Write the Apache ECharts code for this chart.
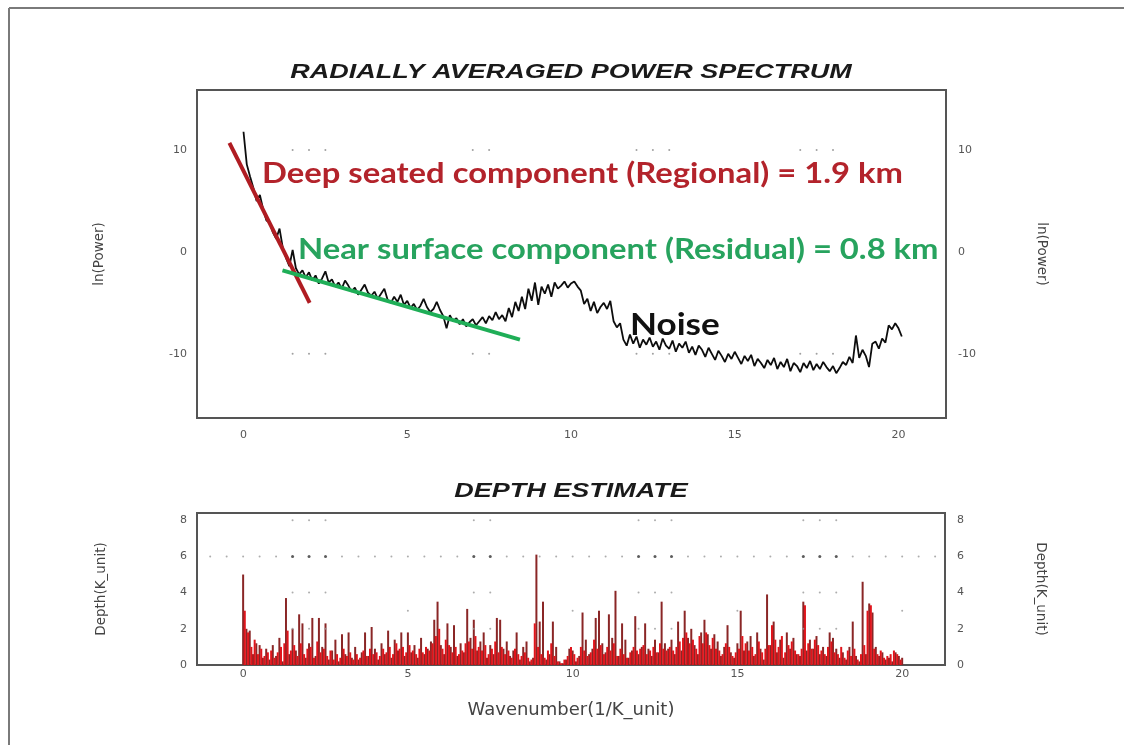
<!DOCTYPE html>
<html><head><meta charset="utf-8">
<script src="https://cdn.jsdelivr.net/npm/echarts@6/dist/echarts.min.js"></script>
<style>html,body{margin:0;padding:0;background:#fff}#c{width:1124px;height:745px}</style>
</head><body><div id="c"></div>
<script>
// ---- data ----
const xTicks = [0, 5, 10, 15, 20];
const powerTicks = [-10, 0, 10];
const depthTicks = [0, 2, 4, 6, 8];
const spectrumStart = 0, spectrumStep = 0.1;
const lnPower = [
 11.8, 8.6, 7.4, 6.3, 5.0, 5.6, 4.2, 3.1, 2.9, 1.9,
 1.3, 2.3, 0.4, -0.6, -1.4, 0.2, -1.6, -2.2, -1.8, -2.5,
 -2.0, -2.8, -2.3, -3.1, -2.6, -1.9, -3.0, -2.7, -3.4, -3.0,
 -3.6, -2.8, -3.3, -3.9, -3.5, -4.2, -3.7, -3.2, -4.0, -4.3,
 -3.9, -4.6, -4.1, -3.6, -4.7, -5.0, -4.4, -4.9, -4.2, -5.2,
 -4.8, -5.5, -5.1, -5.7, -5.3, -4.6, -5.4, -5.9, -5.6, -4.9,
 -5.7, -6.3, -7.5, -6.2, -6.8, -6.5, -7.1, -6.6, -7.3, -6.9,
 -6.6, -7.2, -6.8, -6.4, -7.0, -6.3, -6.7, -5.9, -6.6, -6.2,
 -6.8, -5.5, -6.4, -4.9, -5.8, -4.4, -5.6, -3.6, -4.8, -3.0,
 -5.2, -3.4, -4.1, -3.2, -4.4, -3.0, -3.6, -3.3, -2.9, -3.5,
 -3.1, -2.9, -3.4, -3.8, -5.1, -4.6, -5.8, -4.9, -6.0, -5.4,
 -5.0, -5.6, -4.8, -6.8, -7.4, -7.0, -8.6, -9.2, -8.1, -9.0,
 -8.3, -9.4, -8.6, -9.1, -8.4, -9.3, -8.8, -9.6, -8.5, -9.2,
 -9.5, -8.7, -9.8, -9.0, -9.4, -8.8, -9.9, -9.3, -10.1, -9.2,
 -9.6, -10.3, -9.4, -10.0, -10.6, -9.7, -10.2, -10.8, -10.0, -10.5,
 -9.8, -10.4, -11.0, -10.2, -10.7, -10.1, -11.2, -10.5, -10.9, -11.4,
 -10.6, -11.1, -10.4, -11.5, -10.8, -11.3, -10.5, -11.7, -10.9, -11.2,
 -11.8, -10.9, -11.4, -10.7, -11.6, -11.0, -11.5, -10.8, -11.3, -11.7,
 -11.2, -11.9, -11.4, -10.8, -11.1, -10.3, -10.9, -8.2, -10.4, -9.6,
 -10.2, -11.3, -9.0, -8.8, -9.5, -8.5, -8.9, -7.2, -7.6, -7.0,
 -7.5, -8.3
];
const regionalFit = [[-0.43, 10.7], [2.02, -5.0]];
const residualFit = [[1.19, -1.8], [8.44, -8.6]];

const depthDarkStart = 0, depthRedStart = 0.05, depthStep = 0.1;
const depthDark = [
 5.0, 2.0, 1.9, 0.6, 1.2, 1.1, 0.4, 0.9, 0.3, 1.1,
 0.5, 1.5, 0.2, 3.7, 0.6, 2.0, 0.8, 2.8, 2.3, 0.4,
 1.2, 2.6, 0.5, 2.6, 1.0, 2.3, 0.3, 0.8, 1.4, 0.2,
 1.7, 0.6, 1.8, 0.4, 1.0, 0.3, 0.7, 1.8, 0.5, 2.1,
 0.9, 0.3, 1.2, 0.6, 1.9, 0.4, 1.4, 0.8, 1.8, 0.5,
 1.8, 0.7, 1.1, 0.4, 1.5, 0.6, 0.9, 1.3, 2.5, 3.5,
 1.1, 0.6, 2.3, 1.0, 2.2, 0.5, 1.2, 0.7, 3.1, 1.5,
 2.5, 0.8, 1.3, 1.8, 0.4, 1.1, 0.6, 2.6, 2.5, 0.9,
 1.3, 0.5, 0.8, 1.8, 0.3, 1.0, 1.3, 0.2, 0.4, 6.1,
 2.4, 3.5, 0.3, 0.6, 2.4, 1.0, 0.2, 0.1, 0.3, 0.9,
 0.8, 0.2, 0.5, 2.9, 1.4, 0.6, 0.9, 2.6, 3.0, 1.2,
 0.7, 2.8, 1.5, 4.1, 0.5, 2.3, 1.4, 0.4, 0.8, 2.7,
 0.6, 1.0, 2.3, 0.9, 0.5, 1.4, 0.7, 3.5, 1.2, 0.9,
 1.4, 0.6, 2.4, 0.8, 3.0, 1.5, 2.0, 1.1, 0.6, 1.8,
 2.5, 1.7, 0.9, 1.7, 1.3, 0.5, 1.0, 2.2, 0.7, 0.4,
 1.2, 3.0, 0.8, 1.3, 1.6, 0.5, 1.8, 0.9, 0.3, 3.9,
 1.1, 2.4, 0.7, 1.4, 0.4, 1.8, 0.9, 1.5, 0.6, 0.5,
 3.5, 0.8, 1.4, 0.9, 1.6, 0.6, 1.0, 0.5, 1.8, 1.5,
 0.9, 0.4, 0.7, 0.3, 1.0, 2.4, 0.5, 0.2, 4.6, 0.6,
 3.4, 2.9, 1.0, 0.5, 0.7, 0.3, 0.4, 0.2, 0.7, 0.5,
 0.4
];
const depthRed = [
 3.0, 1.8, 1.0, 1.4, 0.6, 0.9, 0.5, 0.7, 0.8, 0.4,
 0.7, 1.0, 1.2, 1.9, 0.8, 1.1, 0.5, 1.2, 0.6, 0.9,
 1.0, 0.4, 1.3, 0.7, 0.9, 0.5, 0.8, 0.3, 0.6, 0.4,
 0.9, 0.5, 0.7, 0.3, 0.6, 0.4, 0.8, 0.5, 0.9, 0.6,
 0.7, 0.5, 0.9, 0.7, 1.0, 0.6, 1.2, 0.9, 1.0, 0.7,
 1.1, 0.8, 0.6, 0.9, 0.7, 1.0, 0.8, 1.2, 1.6, 2.0,
 0.9, 1.4, 1.1, 0.7, 1.0, 0.6, 0.8, 1.2, 1.3, 0.9,
 1.6, 1.0, 0.8, 1.1, 0.6, 0.9, 1.3, 0.7, 1.0, 0.6,
 0.8, 0.4, 0.9, 0.6, 0.5, 0.7, 0.4, 0.3, 2.3, 1.0,
 0.6, 0.4, 0.8, 1.2, 0.5, 0.2, 0.1, 0.3, 0.5, 1.0,
 0.6, 0.4, 1.0, 0.8, 0.5, 0.7, 1.4, 0.9, 1.1, 0.6,
 1.0, 0.8, 1.2, 0.5, 0.9, 0.6, 0.4, 0.7, 1.0, 0.8,
 0.9, 1.1, 0.6, 0.8, 1.0, 0.7, 1.2, 0.9, 0.8, 1.0,
 0.8, 1.0, 1.3, 1.5, 1.8, 1.2, 1.4, 0.9, 1.6, 1.2,
 1.8, 1.1, 1.5, 0.9, 0.8, 0.6, 1.2, 1.0, 0.5, 0.7,
 0.9, 1.6, 1.2, 0.8, 1.0, 0.6, 1.3, 0.7, 0.9, 1.1,
 2.2, 1.4, 1.0, 1.6, 0.7, 1.1, 1.3, 0.8, 0.6, 0.9,
 3.3, 1.2, 0.9, 1.4, 1.1, 0.8, 0.6, 1.0, 1.3, 0.7,
 0.6, 1.0, 0.4, 0.8, 0.5, 0.9, 0.3, 0.6, 1.1, 3.0,
 3.3, 0.9, 0.6, 0.8, 0.4, 0.5, 0.6, 0.8, 0.6, 0.3
];
// decorative dotted grid marks of the original software
const markDotsX = [1.5, 2, 2.5, 7, 7.5, 12, 12.5, 13, 17, 17.5, 18];
const powerDotLevels = [10, -10];
const depthDotLevels = [8, 4, 2];
const depthRowLevel = 6;
const depthRowX = [-1,-0.5,0,0.5,1,1.5,2,2.5,3,3.5,4,4.5,5,5.5,6,6.5,7,7.5,8,8.5,9,9.5,10,10.5,11,11.5,12,12.5,13,13.5,14,14.5,15,15.5,16,16.5,17,17.5,18,18.5,19,19.5,20,20.5,21];
const depthThreeX = [5, 10, 15, 20];

// ---- build ----
const r1 = v => Math.round(v * 100) / 100;
const spectrum = lnPower.map((v, i) => [r1(spectrumStart + i * spectrumStep), v]);
const darkBars = depthDark.map((v, i) => [r1(depthDarkStart + i * depthStep), v]);
const redBars = depthRed.map((v, i) => [r1(depthRedStart + i * depthStep), v]);
const topDots = [];
powerDotLevels.forEach(l => markDotsX.forEach(x => topDots.push([x, l])));
const botDotsDark = [], botDotsLight = [];
depthRowX.forEach(x => (markDotsX.includes(x) ? botDotsDark : botDotsLight).push([x, depthRowLevel]));
depthDotLevels.forEach(l => markDotsX.forEach(x => botDotsLight.push([x, l])));
depthThreeX.forEach(x => botDotsLight.push([x, 3]));

const tickFont = {fontFamily: 'DejaVu Sans', fontSize: 11, color: '#555'};
const nameFont = {fontFamily: 'DejaVu Sans', fontSize: 13.5, color: '#444'};
const chart = echarts.init(document.getElementById('c'), null, {renderer: 'canvas'});
const G1 = {left: 197, top: 90, width: 749, height: 328};
const G2 = {left: 197, top: 513, width: 748, height: 152};
function xAx(gi, extra) {
  return Object.assign({
    type: 'value', gridIndex: gi, min: -1.42, max: 21.45,
    axisLine: {show: false}, axisTick: {show: false}, splitLine: {show: false},
    axisLabel: Object.assign({customValues: xTicks, margin: 12}, tickFont)
  }, extra || {});
}
function yAx(gi, pos, min, max, ticks, name, extra) {
  return Object.assign({
    type: 'value', gridIndex: gi, position: pos, min: min, max: max,
    axisLine: {show: false}, axisTick: {show: false}, splitLine: {show: false},
    axisLabel: Object.assign({customValues: ticks, margin: pos === 'left' ? 10 : 12}, tickFont),
    name: name, nameLocation: 'middle', nameRotate: pos === 'left' ? 90 : -90,
    nameTextStyle: nameFont
  }, extra || {});
}
const boxStyle = {show: true, borderColor: '#555', borderWidth: 2, backgroundColor: 'transparent'};
chart.setOption({
  animation: false,
  backgroundColor: '#fff',
  grid: [Object.assign({}, G1, boxStyle), Object.assign({}, G2, boxStyle)],
  xAxis: [
    xAx(0),
    xAx(1, {min: -1.4, max: 21.3, axisLabel: Object.assign({customValues: xTicks, margin: 4}, tickFont),
      name: 'Wavenumber(1/K_unit)', nameLocation: 'middle', nameGap: 36,
      nameTextStyle: {fontFamily: 'DejaVu Sans', fontSize: 18, color: '#444'}})
  ],
  yAxis: [
    yAx(0, 'left', -16.3, 15.9, powerTicks, 'ln(Power)', {nameGap: 91}),
    yAx(0, 'right', -16.3, 15.9, powerTicks, 'ln(Power)', {nameGap: 88}),
    yAx(1, 'left', 0, 8.4, depthTicks, 'Depth(K_unit)', {nameGap: 89}),
    yAx(1, 'right', 0, 8.4, depthTicks, 'Depth(K_unit)', {nameGap: 88})
  ],
  series: [
    {type: 'scatter', xAxisIndex: 0, yAxisIndex: 0, data: topDots, symbolSize: 2,
     itemStyle: {color: '#888'}, silent: true},
    {type: 'line', xAxisIndex: 0, yAxisIndex: 0, data: spectrum, showSymbol: false,
     lineStyle: {color: '#0d0d0d', width: 1.8}},
    {type: 'line', xAxisIndex: 0, yAxisIndex: 0, data: regionalFit, showSymbol: false,
     lineStyle: {color: '#b01c22', width: 4}},
    {type: 'line', xAxisIndex: 0, yAxisIndex: 0, data: residualFit, showSymbol: false,
     lineStyle: {color: '#1fae57', width: 4}},
    {type: 'scatter', xAxisIndex: 1, yAxisIndex: 2, data: botDotsLight, symbolSize: 2,
     itemStyle: {color: '#999'}, silent: true},
    {type: 'scatter', xAxisIndex: 1, yAxisIndex: 2, data: botDotsDark, symbolSize: 3,
     itemStyle: {color: '#333'}, silent: true},
    {type: 'bar', xAxisIndex: 1, yAxisIndex: 2, data: darkBars, barWidth: 2, barGap: '-100%',
     itemStyle: {color: '#8a2626'}},
    {type: 'bar', xAxisIndex: 1, yAxisIndex: 2, data: redBars, barWidth: 2, barGap: '-100%',
     itemStyle: {color: '#e0141b'}}
  ],
  graphic: [
    {type: 'line', shape: {x1: 9, y1: 8, x2: 1124, y2: 8}, style: {stroke: '#7a7a7a', lineWidth: 2}},
    {type: 'line', shape: {x1: 9, y1: 8, x2: 9, y2: 745}, style: {stroke: '#7a7a7a', lineWidth: 2}},
    {type: 'text', x: 571, y: 72, scaleX: 1.35, style: {text: 'RADIALLY AVERAGED POWER SPECTRUM', textAlign: 'center', textVerticalAlign: 'middle',
      font: 'italic bold 20px "Liberation Sans"', fill: '#1a1a1a'}},
    {type: 'text', x: 571, y: 491, scaleX: 1.35, style: {text: 'DEPTH ESTIMATE', textAlign: 'center', textVerticalAlign: 'middle',
      font: 'italic bold 20px "Liberation Sans"', fill: '#1a1a1a'}},
    {type: 'text', x: 262, y: 174, z: 100, scaleX: 1.17, style: {text: 'Deep seated component (Regional) = 1.9 km', textAlign: 'left', textVerticalAlign: 'middle',
      font: 'bold 28px Lato', fill: '#b3232b'}},
    {type: 'text', x: 298, y: 250, z: 100, scaleX: 1.17, style: {text: 'Near surface component (Residual) = 0.8 km', textAlign: 'left', textVerticalAlign: 'middle',
      font: 'bold 28px Lato', fill: '#27a35e'}},
    {type: 'text', x: 630, y: 325, z: 100, scaleX: 1.17, style: {text: 'Noise', textAlign: 'left', textVerticalAlign: 'middle',
      font: 'bold 30px Lato', fill: '#111'}}
  ]
});
</script></body></html>
